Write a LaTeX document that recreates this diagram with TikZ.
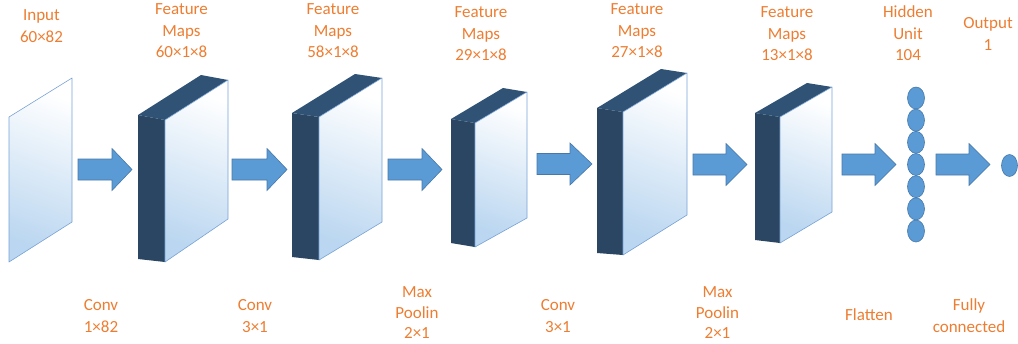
\documentclass[tikz,border=0pt]{standalone}
\usepackage{fontspec}
\setmainfont{Carlito}
\usetikzlibrary{shapes.geometric}
\definecolor{lbl}{RGB}{237,125,49}
\definecolor{sideface}{RGB}{43,70,98}
\definecolor{topface}{RGB}{47,82,117}
\definecolor{facelight}{RGB}{186,214,240}
\definecolor{faceedge}{RGB}{120,162,214}
\definecolor{arrowfill}{RGB}{91,155,213}
\definecolor{arrowedge}{RGB}{70,120,170}
\newcommand\lastln{\rule{0pt}{0.7\baselineskip}}
\begin{document}
\begin{tikzpicture}[x=1pt,y=-1pt,
  lab/.style={text=lbl, font=\fontsize{17}{21.5}\selectfont, align=center, inner sep=0pt, anchor=north},
  tightlab/.style={lab, font=\fontsize{17}{20.5}\selectfont},
  unit/.style={ellipse, minimum width=17pt, minimum height=22pt, inner sep=0pt, fill=arrowfill, draw=arrowedge, line width=0.6pt},
  lightface/.style={top color=white, bottom color=facelight, shading angle=-20},
  faceline/.style={draw=faceedge, line width=0.6pt, line join=round},
  barrow/.style={fill=arrowfill, draw=arrowedge, line width=0.6pt, line join=miter}]
\useasboundingbox (0,0) rectangle (1018,343);

% input plane
\coordinate (in-tl) at (9,117);
\coordinate (in-tr) at (72,78);
\coordinate (in-br) at (72,222);
\coordinate (in-bl) at (9,262);
\shade[lightface] (in-tl) -- (in-tr) -- (in-br) -- (in-bl) -- cycle;
\draw[faceline] (in-tl) -- (in-tr) -- (in-br) -- (in-bl) -- cycle;

% feature map blocks
\foreach \n/\xa/\xb/\xc/\ya/\yb/\yc/\yd/\ye/\yf in {
  b1/138/165/228/115/120/80/259/262/219,
  b2/292/319/382/113/117/78/257/260/222,
  b3/451/475/527/119/123/92/243/247/218,
  b4/597/623/687/108/112/73/253/255/215,
  b5/755/780/832/113/117/87/240/243/212}{
  \coordinate (\n-a) at (\xa,\ya);
  \coordinate (\n-b) at (\xb,\yb);
  \coordinate (\n-c) at (\xc,\yc);
  \coordinate (\n-d) at ({\xc-\xb+\xa},{\yc-\yb+\ya});
  \coordinate (\n-e) at (\xa,\yd);
  \coordinate (\n-f) at (\xb,\ye);
  \coordinate (\n-g) at (\xc,\yf);
  \fill[sideface] (\n-a) -- (\n-b) -- (\n-f) -- (\n-e) -- cycle;
  \fill[topface] (\n-a) -- (\n-b) -- (\n-c) -- (\n-d) -- cycle;
  \shade[lightface] (\n-b) -- (\n-c) -- (\n-g) -- (\n-f) -- cycle;
  \draw[faceline] (\n-b) -- (\n-c) -- (\n-g) -- (\n-f) -- cycle;
}

% block arrows
\foreach \n/\xs/\xh/\xt/\yc in {
  a1/78/112/132/169.5,
  a2/232/267/287/169.5,
  a3/388/422/442/169.5,
  a4/537/570/592/164,
  a5/693/726/747/164.5,
  a6/842/875/896/164.5,
  a7/936/969/990/164.5}{
  \coordinate (\n-tail) at (\xs,\yc);
  \coordinate (\n-tip) at (\xt,\yc);
  \draw[barrow] (\xs,\yc-10.5) -- (\xh,\yc-10.5) -- (\xh,\yc-21) -- (\n-tip)
     -- (\xh,\yc+21) -- (\xh,\yc+10.5) -- (\xs,\yc+10.5) -- cycle;
}

% hidden units and output
\foreach \i in {1,...,7}{
  \node[unit] (h\i) at (916,{98+22.17*(\i-1)}) {};
}
\node[unit, minimum width=16pt] (out) at (1009.5,165.5) {};

% top labels
\node[lab] (l-in) at (41.5,5.45) {\strut Input\\\lastln 60×82};
\node[lab] (l-f1) at (181.5,-0.55) {\strut Feature\\\strut Maps\\\lastln 60×1×8};
\node[lab] (l-f2) at (333,-0.55) {\strut Feature\\\strut Maps\\\lastln 58×1×8};
\node[lab] (l-f3) at (481,2.45) {\strut Feature\\\strut Maps\\\lastln 29×1×8};
\node[lab] (l-f4) at (637,-0.55) {\strut Feature\\\strut Maps\\\lastln 27×1×8};
\node[lab] (l-f5) at (787,2.45) {\strut Feature\\\strut Maps\\\lastln 13×1×8};
\node[lab] (l-hid) at (908,2.45) {\strut Hidden\\\strut Unit\\\lastln 104};
\node[lab] (l-out) at (988,13.45) {\strut Output\\\lastln 1};

% bottom labels
\node[lab] (o-1) at (101,295.45) {\strut Conv\\\lastln 1×82};
\node[lab] (o-2) at (255,295.45) {\strut Conv\\\lastln 3×1};
\node[tightlab] (o-3) at (417,283.15) {\strut Max\\\strut Poolin\\\lastln 2×1};
\node[lab] (o-4) at (558,295.45) {\strut Conv\\\lastln 3×1};
\node[tightlab] (o-5) at (717.5,283.15) {\strut Max\\\strut Poolin\\\lastln 2×1};
\node[lab] (o-6) at (869,305.45) {\strut Flatten};
\node[lab] (o-7) at (969,295.45) {\strut Fully\\\lastln connected};
\end{tikzpicture}
\end{document}
